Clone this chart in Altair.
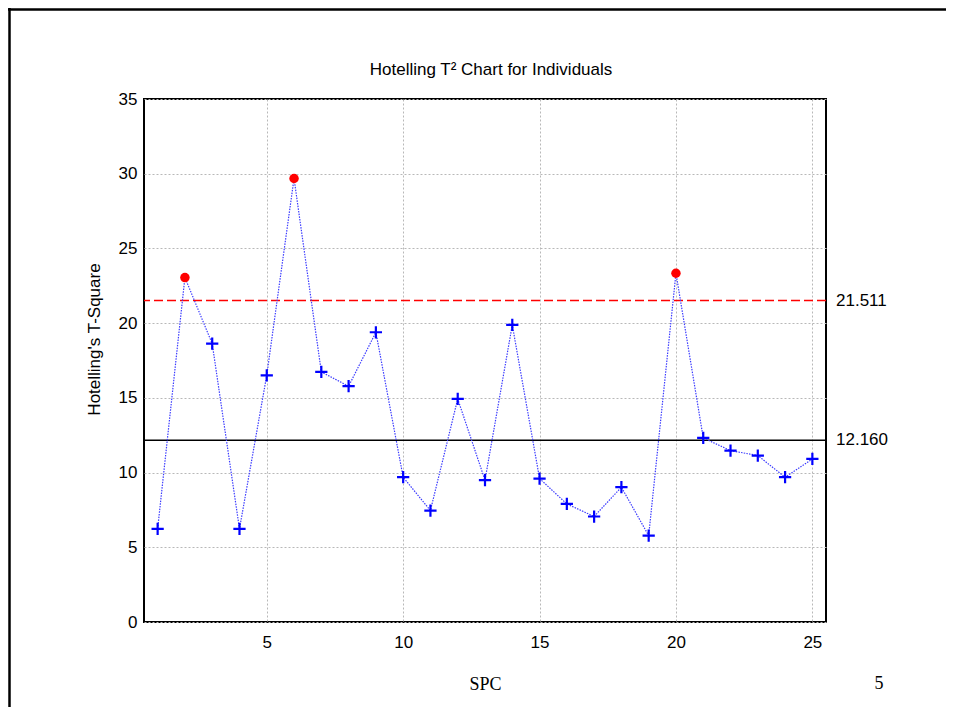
import altair as alt
import pandas as pd

# ---- data ----
samples = list(range(1, 26))
t2_values = [6.23, 23.05, 18.63, 6.23, 16.51, 29.68, 16.74, 15.78, 19.39, 9.69,
             7.46, 14.93, 9.49, 19.88, 9.60, 7.90, 7.06, 9.02, 5.78, 23.34,
             12.32, 11.47, 11.14, 9.69, 10.91]
limit_names = ["UCL", "Center"]
limit_values = [21.511, 12.160]
x_ticks = [5, 10, 15, 20, 25]
y_ticks = [0, 5, 10, 15, 20, 25, 30, 35]
title_text = ["Hotelling T² Chart for Individuals"]
x_title = "SPC"
y_title = "Hotelling's T-Square"
footer_text = ["5"]

W, H = 682, 523
PL, PT, PR, PB = 136, 91, 120, 85
FS = 17

df = pd.DataFrame({"sample": samples, "t2": t2_values})
lim = pd.DataFrame({"name": limit_names, "value": limit_values})
one = pd.DataFrame({"k": [0]})
foot = pd.DataFrame({"txt": footer_text})
ttl = pd.DataFrame({"txt": title_text})

xs = alt.Scale(domain=[0.5, 25.5], nice=False, zero=False)
ys = alt.Scale(domain=[0, 35], nice=False, zero=False)
UCL = limit_values[0]

x_enc = alt.X("sample:Q", scale=xs,
              axis=alt.Axis(values=x_ticks, title=x_title, grid=True,
                            titleFont="Liberation Serif", titleFontSize=18,
                            titleFontWeight="normal", titleColor="black",
                            titleY=62, titleBaseline="middle", labelPadding=12))
y_enc = alt.Y("t2:Q", scale=ys,
              axis=alt.Axis(values=y_ticks, title=y_title, grid=True,
                            titleX=-41, titleY=240, titleAngle=-90,
                            titleFontSize=FS, titleFontWeight="normal",
                            titleColor="black", titleAnchor="middle",
                            labelPadding=7))

base = alt.Chart(df)

line = base.mark_line(color="#3b3bff", strokeWidth=1.2, strokeDash=[1.5, 1.2]).encode(
    x=x_enc, y=y_enc)

crosses = base.transform_filter(alt.datum.t2 <= UCL).mark_point(
    shape="M-1,0L1,0M0,-1L0,1", filled=False, color="#0000ff",
    strokeWidth=2.2, size=150, opacity=1).encode(x="sample:Q", y="t2:Q")

alarms = base.transform_filter(alt.datum.t2 > UCL).mark_circle(
    color="#ff0000", size=90, opacity=1).encode(x="sample:Q", y="t2:Q")

ucl_rule = alt.Chart(lim).transform_filter(alt.datum.name == "UCL").mark_rule(
    color="#ff0000", strokeWidth=1.5, strokeDash=[9, 4]).encode(y="value:Q")
cl_rule = alt.Chart(lim).transform_filter(alt.datum.name == "Center").mark_rule(
    color="black", strokeWidth=1.5).encode(y="value:Q")

lim_text = alt.Chart(lim).mark_text(
    align="left", baseline="middle", fontSize=FS, font="Liberation Sans",
    color="black").encode(
    y="value:Q", x=alt.value(W + 10), text=alt.Text("value:Q", format=".3f"))

title = alt.Chart(ttl).mark_text(
    align="center", baseline="middle", fontSize=FS, font="Liberation Sans",
    color="black").encode(x=alt.value(W / 2 + 6), y=alt.value(-29), text="txt:N")

footer = alt.Chart(foot).mark_text(
    align="center", baseline="middle", font="Liberation Serif", fontSize=18,
    color="black").encode(x=alt.value(735), y=alt.value(585), text="txt:N")

frame_top = alt.Chart(one).mark_rule(color="black", strokeWidth=2.5).encode(
    x=alt.value(-PL), x2=alt.value(W + PR), y=alt.value(-PT + 1.5))
frame_left = alt.Chart(one).mark_rule(color="black", strokeWidth=2.5).encode(
    x=alt.value(-PL + 1.5), y=alt.value(-PT), y2=alt.value(H + PB))

chart = alt.layer(
    ucl_rule, cl_rule, line, crosses, alarms, lim_text, title, footer,
    frame_top, frame_left
).properties(
    width=W, height=H,
    background="white",
    autosize=alt.AutoSizeParams(type="none"),
    padding={"left": PL, "top": PT, "right": PR, "bottom": PB},
).configure_view(
    stroke="black", strokeWidth=2
).configure_axis(
    labelFont="Liberation Sans", labelFontSize=FS, labelColor="black",
    titleFont="Liberation Sans", domain=False, ticks=False,
    gridColor="#b8b8b8", gridDash=[2, 2], gridWidth=1
)

chart.save("out.html", embed_options={"renderer": "svg", "actions": False})
